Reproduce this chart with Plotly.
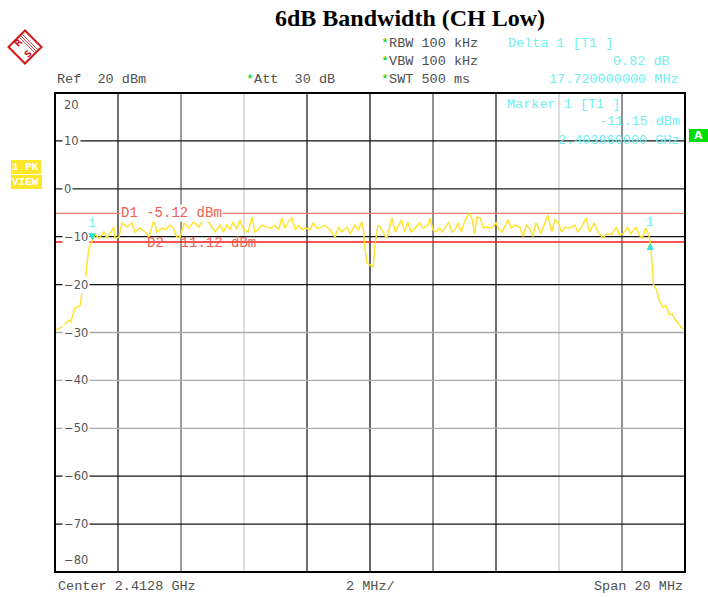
import plotly.graph_objects as go

# ---------------- data ----------------
freq_mhz = [0.0, 0.22, 0.44, 0.5, 0.63, 0.8, 0.86, 0.95, 1.02, 1.08, 1.16, 1.27, 1.4, 1.55, 1.65,
            1.87, 1.9, 2.03, 2.13, 2.29, 2.44, 2.54, 2.7, 2.86, 2.98, 3.14, 3.24, 3.4, 3.5, 3.65,
            3.75, 3.87, 3.97, 4.1, 4.25, 4.4, 4.57, 4.73, 4.89, 5.0, 5.08, 5.24, 5.35, 5.45, 5.56,
            5.65, 5.77, 5.87, 5.98, 6.13, 6.25, 6.35, 6.45, 6.57, 6.72, 6.88, 6.98, 7.1, 7.2, 7.3,
            7.4, 7.52, 7.63, 7.74, 7.84, 7.94, 8.1, 8.2, 8.3, 8.47, 8.57, 8.73, 8.89, 9.0, 9.1,
            9.27, 9.37, 9.52, 9.63, 9.74, 9.8, 9.84, 9.9, 10.0, 10.1, 10.16, 10.25, 10.35, 10.5,
            10.55, 10.7, 10.8, 10.9, 11.0, 11.1, 11.2, 11.3, 11.47, 11.57, 11.68, 11.84, 11.9, 12.0,
            12.1, 12.2, 12.3, 12.5, 12.6, 12.7, 12.8, 12.9, 13.0, 13.14, 13.25, 13.32, 13.4, 13.5,
            13.6, 13.7, 13.8, 13.9, 14.0, 14.1, 14.2, 14.38, 14.48, 14.6, 14.75, 14.86, 14.96,
            15.06, 15.17, 15.27, 15.43, 15.5, 15.65, 15.77, 15.87, 15.98, 16.08, 16.2, 16.35, 16.5,
            16.6, 16.7, 16.86, 16.97, 17.12, 17.23, 17.4, 17.5, 17.66, 17.82, 17.92, 18.03, 18.17,
            18.28, 18.44, 18.54, 18.65, 18.75, 18.88, 18.92, 19.0, 19.1, 19.2, 19.3, 19.4, 19.5,
            19.6, 19.67, 19.78, 19.87, 20.0]
level_dbm = [-29.5, -28.9, -27.4, -27.8, -24.9, -24.3, -21.5, -20.1, -15.3, -12.4, -11.15, -9.6, -10.3, -9.0, -10.3,
             -8.0, -10.3, -10.1, -7.1, -8.0, -7.1, -9.0, -8.2, -9.0, -10.1, -6.5, -9.0, -8.2, -8.5, -7.6,
             -8.2, -10.1, -10.1, -7.1, -8.2, -6.9, -8.0, -6.1, -7.1, -8.2, -9.0, -7.6, -9.0, -7.6, -8.5,
             -6.9, -8.5, -6.5, -8.5, -9.0, -5.9, -9.0, -8.5, -7.6, -8.0, -8.2, -7.6, -8.5, -6.1, -8.2,
             -6.9, -6.1, -8.5, -7.6, -8.5, -8.2, -8.5, -7.1, -8.2, -8.0, -7.6, -8.6, -10.1, -8.0, -9.0,
             -8.0, -9.4, -7.6, -8.5, -6.9, -9.0, -12.4, -15.5, -15.9, -16.3, -11.7, -7.6, -8.2, -10.1,
             -9.9, -6.1, -9.0, -7.6, -6.5, -9.0, -6.9, -9.0, -8.0, -7.1, -8.2, -7.6, -6.1, -8.5,
             -9.0, -8.2, -9.0, -6.9, -9.0, -8.5, -7.1, -9.0, -6.9, -5.0, -6.5, -9.4, -5.9, -6.1,
             -8.2, -8.0, -8.2, -8.0, -7.1, -8.5, -9.0, -6.5, -8.2, -7.6, -8.0, -9.9, -7.6,
             -8.2, -9.9, -7.1, -9.4, -8.0, -5.5, -9.0, -6.5, -7.1, -9.0, -8.0, -8.2, -7.6,
             -9.0, -8.2, -6.1, -9.0, -7.1, -9.0, -10.3, -9.4, -9.6, -8.0, -9.6, -9.4, -8.0,
             -9.4, -8.0, -9.6, -10.3, -8.2, -10.33, -12.4, -20.1, -21.1, -23.6, -24.7, -24.4, -26.3,
             -26.1, -27.2, -28.0, -28.9, -29.5]

marker_freq = [1.16, 18.88]
marker_level = [-11.15, -10.33]
d1_level = -5.12
d2_level = -11.12
y_ticks = [20, 10, 0, -10, -20, -30, -40, -50, -60, -70, -80]
x_grid = [2, 4, 6, 8, 10, 12, 14, 16, 18]

# ---------------- layout helpers ----------------
W, H = 708, 597
L, R, T, B = 55, 685, 93, 572


def xp(px):
    return (px - L) / (R - L)


def yp(py):
    return (B - py) / (B - T)


MONO = "Liberation Mono, Courier New, monospace"
GRAY = "#505050"
CYAN = "#70f0f0"
GREEN = "#00c800"

fig = go.Figure()
fig.add_trace(go.Scatter(x=freq_mhz, y=level_dbm, mode="lines",
                         line=dict(color="#ffe433", width=1.5), hoverinfo="skip"))

shapes = []
vcol = {2: "#222222", 4: "#666666", 6: "#cccccc", 8: "#222222", 10: "#111111",
        12: "#555555", 14: "#222222", 16: "#cccccc", 18: "#555555"}
for gx in x_grid:
    shapes.append(dict(type="line", xref="x", yref="paper", x0=gx, x1=gx, y0=0, y1=1,
                       line=dict(color=vcol[gx], width=1.3), layer="below"))
hcol = {10: "#111111", 0: "#222222", -10: "#111111", -20: "#111111", -30: "#aaaaaa",
        -40: "#aaaaaa", -50: "#aaaaaa", -60: "#111111", -70: "#111111"}
for gy in y_ticks[1:-1]:
    shapes.append(dict(type="line", xref="paper", yref="y", x0=0, x1=1, y0=gy, y1=gy,
                       line=dict(color=hcol[gy], width=1.3), layer="below"))
# display lines
shapes.append(dict(type="line", xref="paper", yref="y", x0=0, x1=1, y0=d1_level, y1=d1_level,
                   line=dict(color="#f07a6a", width=1.3), layer="below"))
shapes.append(dict(type="line", xref="paper", yref="y", x0=0, x1=1, y0=d2_level, y1=d2_level,
                   line=dict(color="#ff1a1a", width=1.5), layer="below"))
# frame
shapes.append(dict(type="rect", xref="paper", yref="paper", x0=0, x1=1, y0=0, y1=1,
                   line=dict(color="#000000", width=2), layer="above"))

# side boxes
shapes.append(dict(type="rect", xref="paper", yref="paper", x0=xp(11), x1=xp(41), y0=yp(174), y1=yp(160),
                   fillcolor="#ffe62a", line=dict(width=0)))
shapes.append(dict(type="rect", xref="paper", yref="paper", x0=xp(11), x1=xp(42), y0=yp(189), y1=yp(175),
                   fillcolor="#ffe62a", line=dict(width=0)))
shapes.append(dict(type="rect", xref="paper", yref="paper", x0=xp(689), x1=xp(708), y0=yp(142), y1=yp(129),
                   fillcolor="#00dd00", line=dict(width=0)))

# R&S logo
cx, cy, rr = 25, 47, 16.5
path = "M {} {} L {} {} L {} {} L {} {} Z".format(xp(cx), yp(cy - rr), xp(cx + rr), yp(cy),
                                               xp(cx), yp(cy + rr), xp(cx - rr), yp(cy))
shapes.append(dict(type="path", xref="paper", yref="paper", path=path,
                   line=dict(color="#d01818", width=2)))
for off in (-1.5, 0, 1.5):
    shapes.append(dict(type="line", xref="paper", yref="paper",
                       x0=xp(21 + off), y0=yp(36 - off), x1=xp(36 + off), y1=yp(51 - off),
                       line=dict(color="#d01818", width=0.8)))

ann = []


def text(px, py, s, color=GRAY, size=13.5, anchor="left", family=MONO, bg=None, **kw):
    d = dict(x=xp(px), y=yp(py), xref="paper", yref="paper", text=s, showarrow=False,
             xanchor=anchor, yanchor="middle", font=dict(family=family, size=size, color=color))
    if bg:
        d.update(bgcolor=bg, borderpad=0)
    d.update(kw)
    ann.append(d)


star = "<span style='color:%s'>*</span>" % GREEN
text(410, 18, "<b>6dB Bandwidth (CH Low)</b>", color="#000000", size=24, anchor="center",
     family="Liberation Serif, Times New Roman, serif")
text(379, 44, star + "RBW 100 kHz")
text(379, 61, star + "VBW 100 kHz")
text(379, 79, star + "SWT 500 ms")
text(55, 79, "Ref  20 dBm")
text(244, 79, star + "Att  30 dB")
text(506, 44, "Delta 1 [T1 ]", color=CYAN)
text(672, 61, "0.82 dB", color=CYAN, anchor="right")
text(681, 79, "17.720000000 MHz", color=CYAN, anchor="right")
text(505, 104, "Marker 1 [T1 ]", color=CYAN)
text(682, 122, "-11.15 dBm", color=CYAN, anchor="right")
text(682, 140, "2.403960000 GHz", color=CYAN, anchor="right")
text(56, 586, "Center 2.4128 GHz", size=13.5)
text(370, 586, "2 MHz/", size=13.5, anchor="center")
text(685, 586, "Span 20 MHz", size=13.5, anchor="right")
text(26, 167, "<b>1 PK</b>", color="#ffffff", size=11, anchor="center")
text(26, 182, "<b>VIEW</b>", color="#ffffff", size=11, anchor="center")
text(698, 135.5, "<b>A</b>", color="#ffffff", size=11, anchor="center", family="DejaVu Sans, sans-serif")
text(18, 43, "<b>R</b>", color="#d01818", size=9, anchor="center", family="DejaVu Sans, sans-serif", textangle=-45)
text(28, 54, "<b>S</b>", color="#d01818", size=9, anchor="center", family="DejaVu Sans, sans-serif", textangle=-45)

# y tick labels inside the grid
for v in y_ticks:
    d = dict(x=xp(62), xref="paper", y=v, yref="y", text=str(v).replace("-", "\u2212"), showarrow=False,
             xanchor="left", font=dict(family="DejaVu Sans, sans-serif", size=11.5, color="#555555"),
             bgcolor="#ffffff", borderpad=1)
    if v == y_ticks[0]:
        d.update(yanchor="top", yshift=-3)
    elif v == y_ticks[-1]:
        d.update(yanchor="bottom", yshift=3)
    else:
        d.update(yanchor="middle")
    ann.append(d)

# display line labels
ann.append(dict(x=xp(120), xref="paper", y=d1_level, yref="y", text="D1 -5.12 dBm", showarrow=False,
                xanchor="left", yanchor="middle", bgcolor="#ffffff", borderpad=0,
                font=dict(family=MONO, size=14, color="#f06050")))
ann.append(dict(x=xp(146), xref="paper", y=d2_level, yref="y", text="D2 -11.12 dBm", showarrow=False,
                xanchor="left", yanchor="middle", yshift=-1, borderpad=0,
                font=dict(family=MONO, size=14, color="#f06050")))

# markers
ann.append(dict(x=marker_freq[0], y=marker_level[0], xref="x", yref="y", text="\u25bc", showarrow=False,
                xanchor="center", yanchor="bottom", yshift=-4, font=dict(size=12, color="#30e0e0")))
ann.append(dict(x=marker_freq[0], y=marker_level[0], xref="x", yref="y", text="1", showarrow=False,
                xanchor="center", yanchor="bottom", yshift=9, font=dict(family=MONO, size=13, color=CYAN)))
ann.append(dict(x=marker_freq[1], y=marker_level[1], xref="x", yref="y", text="\u25b2", showarrow=False,
                xanchor="center", yanchor="top", yshift=3, font=dict(size=12, color="#30e0e0")))
ann.append(dict(x=marker_freq[1], y=marker_level[1], xref="x", yref="y", text="1", showarrow=False,
                xanchor="center", yanchor="bottom", yshift=6, font=dict(family=MONO, size=13, color=CYAN)))

fig.update_layout(
    width=W, height=H, autosize=False,
    margin=dict(l=L, r=W - R, t=T, b=H - B),
    paper_bgcolor="#ffffff", plot_bgcolor="#ffffff",
    showlegend=False,
    xaxis=dict(range=[0, 20], showgrid=False, zeroline=False, showticklabels=False, ticks="",
               fixedrange=True),
    yaxis=dict(range=[-80, 20], showgrid=False, zeroline=False, showticklabels=False, ticks="",
               fixedrange=True),
    shapes=shapes, annotations=ann,
)

fig.write_html("out.html", config={"displayModeBar": False},
               post_script="document.body.style.margin='0';document.body.style.overflow='hidden';")
